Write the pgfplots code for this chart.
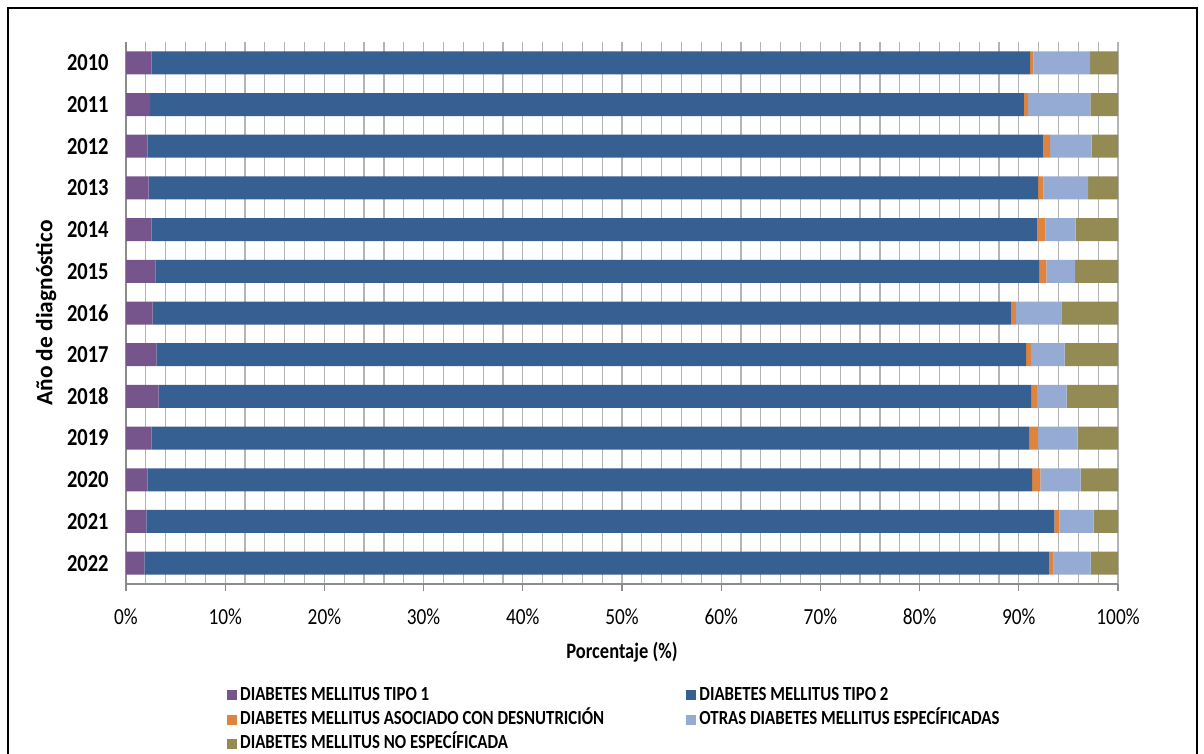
\documentclass[border=0pt]{standalone}
\usepackage{fontspec}
\setmainfont{Carlito}[FakeStretch=0.84]
\newfontfamily\ylabfont{Carlito}
\usepackage{pgfplots}
\usepackage{pgfplotstable}
\pgfplotsset{compat=1.18}

\definecolor{cTipoA}{RGB}{118,84,140}
\definecolor{cTipoB}{RGB}{54,96,146}
\definecolor{cDesn}{RGB}{223,132,63}
\definecolor{cOtras}{RGB}{149,171,211}
\definecolor{cNoEsp}{RGB}{147,138,84}
\definecolor{cGrid}{RGB}{180,180,180}
\definecolor{cAxis}{RGB}{140,140,140}

% row index: 0 = 2010 ... 12 = 2022
\pgfplotstableread{
idx t1    t2    desn  otras noesp
0   2.59  88.54 0.34  5.71  2.82
1   2.42  88.10 0.41  6.28  2.79
2   2.18  90.29 0.68  4.20  2.65
3   2.28  89.66 0.53  4.51  3.02
4   2.59  89.24 0.84  3.06  4.27
5   2.96  89.08 0.73  2.90  4.33
6   2.69  86.51 0.50  4.60  5.70
7   3.06  87.67 0.50  3.39  5.38
8   3.29  87.94 0.60  3.00  5.17
9   2.59  88.44 0.91  3.99  4.07
10  2.18  89.15 0.84  4.07  3.76
11  2.05  91.53 0.51  3.46  2.45
12  1.85  91.19 0.48  3.73  2.75
}\diabetes

\begin{document}
\begin{tikzpicture}
\useasboundingbox (0,0) rectangle (602pt,377pt);
\begin{axis}[
    at={(63pt,85pt)}, anchor=south west,
    scale only axis, width=496pt, height=271pt,
    xbar stacked, bar width=11.5pt,
    y dir=reverse,
    ymin=-0.5, ymax=12.5,
    xmin=0, xmax=100,
    ytick={0,...,12},
    yticklabels={2010,2011,2012,2013,2014,2015,2016,2017,2018,2019,2020,2021,2022},
    xtick={0,10,...,100},
    minor x tick num=4,
    xmajorgrids, xminorgrids,
    grid style={cGrid, line width=0.6pt},
    minor grid style={cGrid, line width=0.6pt},
    axis x line*=bottom, axis y line*=left,
    x axis line style={-, cAxis, line width=0.6pt},
    y axis line style={-, cAxis, line width=0.6pt},
    tick align=outside,
    major tick length=3.5pt, minor tick length=0pt,
    xtick style={cAxis, line width=0.6pt},
    ytick style={draw=none},
    /pgf/number format/assume math mode=true,
    xticklabel={\pgfmathprintnumber{\tick}\%},
    xticklabel style={anchor=center, yshift=-13pt, font=\fontsize{11.5}{13}\selectfont},
    yticklabel style={anchor=east, inner sep=0pt, xshift=-5pt, font=\bfseries\fontsize{12.2}{14}\selectfont},
    xlabel={Porcentaje (\%)},
    xlabel style={at={(axis description cs:0.5,-0.1255)}, anchor=center, font=\bfseries\fontsize{11}{13}\selectfont},
    ylabel={Año de diagnóstico},
    ylabel style={at={(axis description cs:-0.0806,0.5)}, anchor=center, font=\ylabfont\bfseries\fontsize{11.7}{13}\selectfont},
    legend columns=2,
    legend cell align=left,
    legend image code/.code={\fill[#1] (0pt,-2.5pt) rectangle (5pt,2.5pt);},
    legend style={at={(axis description cs:0.095,-0.176)}, anchor=north west, draw=none,
        font=\bfseries\fontsize{10}{11}\selectfont, column sep=0pt, row sep=0.5pt,
        nodes={text height=6.5pt, text depth=1.5pt, inner sep=1.8pt}},
]
\addplot[fill=cTipoA, draw=none] table[x=t1, y=idx] {\diabetes};
\addlegendentry{\makebox[221pt][l]{DIABETES MELLITUS TIPO 1}}
\addplot[fill=cTipoB, draw=none] table[x=t2, y=idx] {\diabetes};
\addlegendentry{DIABETES MELLITUS TIPO 2}
\addplot[fill=cDesn, draw=none] table[x=desn, y=idx] {\diabetes};
\addlegendentry{\makebox[221pt][l]{DIABETES MELLITUS ASOCIADO CON DESNUTRICIÓN}}
\addplot[fill=cOtras, draw=none] table[x=otras, y=idx] {\diabetes};
\addlegendentry{OTRAS DIABETES MELLITUS ESPECÍFICADAS}
\addplot[fill=cNoEsp, draw=none] table[x=noesp, y=idx] {\diabetes};
\addlegendentry{DIABETES MELLITUS NO ESPECÍFICADA}
\end{axis}
\draw[line width=1.3pt] (4pt,-6pt) rectangle (598.5pt,373pt);
\end{tikzpicture}
\end{document}
